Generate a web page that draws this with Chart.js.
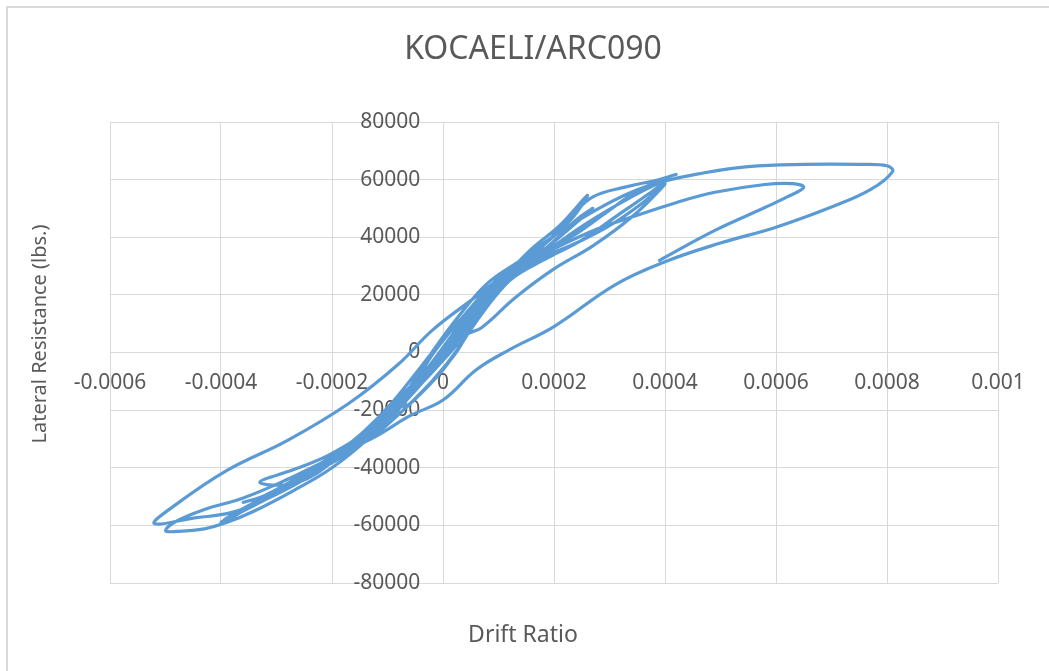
<!DOCTYPE html>
<html>
<head>
<meta charset="utf-8">
<script src="https://cdn.jsdelivr.net/npm/chart.js@4.4.1/dist/chart.umd.min.js"></script>
<style>
  body { margin: 0; background: #ffffff; }
  #frame { position: absolute; left: 6px; top: 6px; width: 1049px; height: 671px; border-left: 2px solid #d9d9d9; border-top: 2px solid #d9d9d9; }
  #wrap { position: absolute; left: 0; top: 0; width: 1049px; height: 671px; }
</style>
</head>
<body>
<div id="frame"></div>
<div id="wrap"><canvas id="chart"></canvas></div>
<script>
const chartTitle = "KOCAELI/ARC090";
const xTitle = "Drift Ratio";
const yTitle = "Lateral Resistance (lbs.)";

// drift ratio, in order of the response history
const drift = [
  0, 0.00004, 0.00008, 0.00006, 0.00003, -0.00002, -0.00007, -0.00005, -0.00002, 0.00003,
  0.00009, 0.00013, 0.0001, 0.00006, 0.00002, -0.00004, -0.0001, -0.00014, -0.00011, -0.00006,
  -0.00002, 0.00003, 0.00008, 0.00014, 0.00018, 0.00015, 0.0001, 0.00005, 0, -0.00006,
  -0.00012, -0.00018, -0.00022, -0.00019, -0.00014, -0.00009, -0.00004, 0.00001, 0.00006, 0.00011,
  0.00008, 0.00004, 0.00001, -0.00004, -0.00008, -0.00013, -0.0001, -0.00006, -0.00002, 0.00002,
  0.0001, 0.00016, 0.00021, 0.00026, 0.00023, 0.00018, 0.00012, 0.00006, -0.00001, -0.00008,
  -0.00016, -0.00024, -0.00032, -0.00038, -0.0004, -0.00037, -0.0003, -0.00023, -0.00016, -0.00009,
  -0.00002, 0.00004, 0.00007, 0.00013, 0.0002, 0.00027, 0.00034, 0.0004, 0.00036, 0.0003,
  0.00024, 0.00017, 0.0001, 0.00003, -0.00004, -0.00011, -0.00018, -0.00026, -0.00033, -0.00026,
  -0.0002, -0.00013, -0.00006, 0.00001, 0.00008, 0.00015, 0.0002, 0.00026, 0.00033, 0.0004,
  0.00037, 0.00031, 0.00025, 0.00019, 0.00012, 0.00005, -0.00002, -0.00009, -0.00017, -0.00025,
  -0.00032, -0.00039, -0.0004, -0.00036, -0.00028, -0.0002, -0.00012, -0.00005, 0.00002, 0.00008,
  0.00014, 0.00018, 0.00023, 0.00027, 0.00033, 0.00039, 0.00042, 0.0004, 0.00035, 0.00029,
  0.00023, 0.00017, 0.0001, 0.00003, -0.00004, -0.0001, -0.00017, -0.00024, -0.00031, -0.00036,
  -0.00032, -0.00025, -0.00017, -0.0001, -0.00003, 0.00004, 0.0001, 0.00016, 0.00022, 0.00029,
  0.00035, 0.0004, 0.00046, 0.00055, 0.00065, 0.00075, 0.0008, 0.00081, 0.00077, 0.0007,
  0.0006, 0.0005, 0.0004, 0.00031, 0.0002, 0.00012, 0.00006, 0, -0.00006, -0.00012,
  -0.0002, -0.00028, -0.00036, -0.00043, -0.00048, -0.0005, -0.00048, -0.00043, -0.00039, -0.00034,
  -0.00027, -0.0002, -0.00013, -0.00006, 0.00001, 0.00007, 0.00013, 0.00019, 0.00024, 0.00027,
  0.00024, 0.00018, 0.00011, 0.00004, -0.00003, -0.0001, -0.00018, -0.00025, -0.00032, -0.00038,
  -0.00045, -0.00052, -0.00049, -0.00039, -0.00028, -0.00017, -0.00008, -0.00002, 0.00005, 0.00012,
  0.0002, 0.00028, 0.00034, 0.00042, 0.00049, 0.00058, 0.00063, 0.00065, 0.00062, 0.00058,
  0.00049, 0.00039
];

// lateral resistance (lbs.), same order
const resistance = [
  0, 11000, 20000, 12000, 2000, -10000, -19000, -11000, -1000, 11000,
  24000, 30000, 23000, 12000, -1000, -14000, -25000, -31000, -24000, -12000,
  0, 13000, 24000, 32000, 37000, 31000, 21000, 8000, -6000, -18000,
  -28000, -36000, -40000, -35000, -27000, -17000, -5000, 7000, 17000, 26000,
  21000, 11000, 2000, -8000, -19000, -29000, -24000, -15000, -4000, 6000,
  24000, 36000, 44000, 54500, 46000, 37000, 27000, 13000, -4000, -19000,
  -32000, -43000, -50000, -56500, -59000, -56000, -49000, -41000, -31000, -19000,
  -4000, 6000, 8700, 19000, 29000, 37000, 47000, 58500, 52000, 44000,
  38000, 32000, 22000, 6000, -11000, -24000, -35000, -45000, -45000, -40000,
  -35000, -26000, -12000, 2000, 18000, 30000, 37000, 45000, 53000, 59500,
  55000, 47000, 39000, 33000, 25000, 10000, -6000, -21000, -33000, -43000,
  -50000, -57500, -59500, -55000, -46000, -38000, -26000, -12000, 6000, 20000,
  31000, 37000, 47000, 54000, 57500, 60000, 61800, 60500, 56000, 48000,
  40000, 34000, 24000, 8000, -10000, -23000, -34000, -43000, -49000, -52000,
  -49500, -42000, -32000, -22000, -6000, 12000, 25000, 35000, 43000, 51000,
  56500, 59500, 62000, 64500, 65300, 65300, 64800, 62800, 56500, 50500,
  43500, 38000, 31500, 23500, 9000, 1000, -6000, -16500, -22000, -29000,
  -36500, -44000, -50500, -54500, -58500, -61800, -62100, -61200, -59000, -55000,
  -48000, -40000, -29000, -15000, 1000, 15000, 28000, 37000, 46000, 50000,
  45000, 35000, 23000, 6000, -9000, -23000, -35000, -44000, -51000, -55500,
  -57500, -59400, -54000, -41000, -30500, -17700, -4000, 7600, 18000, 28000,
  36000, 43000, 47000, 52000, 55600, 58300, 58600, 57300, 54000, 50300,
  42400, 32000
];

const xTicks = [-0.0006, -0.0004, -0.0002, 0, 0.0002, 0.0004, 0.0006, 0.0008, 0.001];
const yTicks = [-80000, -60000, -40000, -20000, 0, 20000, 40000, 60000, 80000];

const points = drift.map((d, i) => ({ x: d, y: resistance[i] }));

// titles drawn by hand so they sit where Excel put them
const textPlugin = {
  id: "texts",
  afterDraw(chart) {
    const ctx = chart.ctx;
    ctx.save();
    ctx.fillStyle = "#595959";
    ctx.textAlign = "center";
    ctx.textBaseline = "middle";
    ctx.font = "32px 'Noto Sans'";
    ctx.fillText(chartTitle, 533, 50);
    ctx.font = "23px 'Noto Sans'";
    ctx.fillText(xTitle, 523, 635);
    ctx.font = "20px 'Noto Sans'";
    ctx.translate(40, 334);
    ctx.rotate(-Math.PI / 2);
    ctx.fillText(yTitle, 0, 0);
    ctx.restore();
  }
};

new Chart(document.getElementById("chart"), {
  type: "scatter",
  plugins: [textPlugin],
  data: {
    datasets: [{
      data: points,
      showLine: true,
      tension: 0.4,
      borderColor: "#5b9bd5",
      borderWidth: 3.2,
      borderCapStyle: "round",
      borderJoinStyle: "round",
      pointRadius: 0,
      pointHoverRadius: 0
    }]
  },
  options: {
    responsive: true,
    maintainAspectRatio: false,
    animation: false,
    layout: { padding: { left: 110, right: 51, top: 122, bottom: 88 } },
    plugins: {
      legend: { display: false },
      tooltip: { enabled: false },
      title: { display: false }
    },
    scales: {
      x: {
        type: "linear",
        position: { y: 0 },
        min: xTicks[0],
        max: xTicks[xTicks.length - 1],
        afterBuildTicks: (axis) => { axis.ticks = xTicks.map(v => ({ value: v })); },
        grid: { color: "#d9d9d9", lineWidth: 1, drawTicks: false },
        border: { color: "#d9d9d9", width: 1 },
        ticks: {
          padding: 18,
          color: "#595959",
          font: { family: "'Noto Sans'", size: 21 },
          maxRotation: 0,
          callback: (v) => String(Number(v.toFixed(4)))
        }
      },
      y: {
        type: "linear",
        // labels sit a little left of the zero line; the x grid draws the line itself
        position: { x: -0.000041 },
        min: yTicks[0],
        max: yTicks[yTicks.length - 1],
        afterBuildTicks: (axis) => { axis.ticks = yTicks.map(v => ({ value: v })); },
        grid: { color: "#d9d9d9", lineWidth: 1, drawTicks: false },
        border: { display: false },
        ticks: {
          color: "#595959",
          font: { family: "'Noto Sans'", size: 21 },
          callback: (v) => String(v)
        }
      }
    }
  }
});
</script>
</body>
</html>
